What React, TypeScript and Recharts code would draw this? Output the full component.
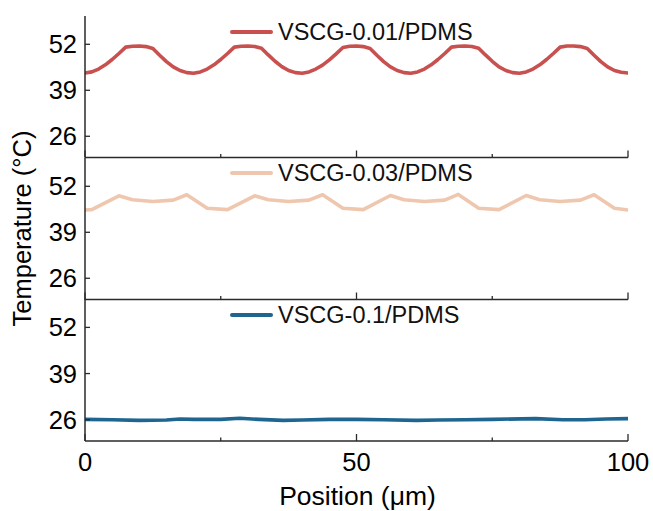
import React from 'react';
import { LineChart, Line, XAxis, YAxis, Legend } from 'recharts';

const FONT = '"Liberation Sans", Arial, Helvetica, sans-serif';
const AXIS = '#2a2a2a';

const xTicks = [0, 25, 50, 75, 100];
const xMajorTicks = [0, 50, 100];
const yTicks = [26, 39, 52];

const names = ['VSCG-0.01/PDMS', 'VSCG-0.03/PDMS', 'VSCG-0.1/PDMS'];
const colors = ['#C85150', '#EFC7AF', '#1E6690'];
const xTitle = 'Position (μm)';
const yTitle = 'Temperature (°C)';

const pos1 = [
  0, 1.25, 2.5, 3.75, 5, 6.25, 7.5, 8.75, 10, 11.25, 12.5, 13.75, 15, 16.25, 17.5, 18.75,
  20, 21.25, 22.5, 23.75, 25, 26.25, 27.5, 28.75, 30, 31.25, 32.5, 33.75, 35, 36.25, 37.5, 38.75,
  40, 41.25, 42.5, 43.75, 45, 46.25, 47.5, 48.75, 50, 51.25, 52.5, 53.75, 55, 56.25, 57.5, 58.75,
  60, 61.25, 62.5, 63.75, 65, 66.25, 67.5, 68.75, 70, 71.25, 72.5, 73.75, 75, 76.25, 77.5, 78.75,
  80, 81.25, 82.5, 83.75, 85, 86.25, 87.5, 88.75, 90, 91.25, 92.5, 93.75, 95, 96.25, 97.5, 98.75, 100,
];
const temp1 = [
  43.9, 44.2, 45.0, 46.2, 47.7, 49.4, 51.2, 51.45, 51.5, 51.35, 50.8, 48.9, 47.1, 45.6, 44.6, 44.0,
  43.8, 44.2, 45.0, 46.2, 47.7, 49.4, 51.2, 51.45, 51.5, 51.4, 50.9, 49.0, 47.2, 45.7, 44.6, 44.0,
  43.8, 44.2, 45.0, 46.1, 47.6, 49.3, 51.1, 51.45, 51.5, 51.35, 50.8, 48.9, 47.1, 45.6, 44.6, 44.0,
  43.8, 44.2, 45.0, 46.2, 47.7, 49.4, 51.2, 51.45, 51.5, 51.4, 50.9, 49.0, 47.2, 45.6, 44.6, 44.0,
  43.8, 44.2, 45.0, 46.2, 47.7, 49.4, 51.2, 51.5, 51.5, 51.35, 50.8, 48.9, 47.1, 45.6, 44.6, 44.1, 43.9,
];

const pos2 = [0, 1.25, 6.25, 8.75, 12.5, 16.25, 18.75, 22.5, 26.25, 31.25, 33.75, 37.5, 41.25, 43.75, 47.5, 51.25, 56.25, 58.75, 62.5, 66.25, 68.75, 72.5, 76.25, 81.25, 83.75, 87.5, 91.25, 93.75, 97.5, 100];
const temp2 = [45.3, 45.4, 49.3, 48.2, 47.7, 48.1, 49.6, 45.8, 45.4, 49.3, 48.2, 47.7, 48.1, 49.6, 45.8, 45.4, 49.4, 48.2, 47.7, 48.1, 49.7, 45.8, 45.4, 49.4, 48.2, 47.7, 48.1, 49.6, 45.8, 45.3];

const pos3 = [0, 5, 10, 15, 17.5, 20, 25, 28.5, 32, 36.5, 40, 45, 50, 55, 61, 65, 70, 75, 83, 88, 92, 96, 100];
const temp3 = [26.1, 26.0, 25.8, 25.9, 26.2, 26.1, 26.1, 26.4, 26.1, 25.8, 25.9, 26.1, 26.1, 26.0, 25.8, 25.9, 26.0, 26.1, 26.3, 26.0, 26.0, 26.2, 26.3];

const toRows = (xs: number[], ys: number[]) => xs.map((x, i) => ({ x, y: ys[i] }));

const renderXTick = (showLabel: boolean) => (props: any) => {
  const { x, y, payload } = props;
  const v = payload.value;
  const major = xMajorTicks.includes(v);
  return (
    <g>
      <line x1={x} x2={x} y1={y} y2={y - (major ? 7 : 3.5)} stroke={AXIS} strokeWidth={1.3} />
      {showLabel && major ? (
        <text x={x} y={y + 29.5} textAnchor="middle" fontSize={25.5} fontFamily={FONT} fill="#000">
          {v}
        </text>
      ) : null}
    </g>
  );
};

const renderYTick = (props: any) => {
  const { x, y, payload } = props;
  return (
    <g>
      <line x1={x} x2={x + 5} y1={y} y2={y} stroke={AXIS} strokeWidth={1.3} />
      <text x={x - 8} y={y} dy="0.355em" textAnchor="end" fontSize={25.5} fontFamily={FONT} fill="#000">
        {payload.value}
      </text>
    </g>
  );
};

type PanelProps = {
  plotTop: number;
  plotHeight: number;
  marginTop: number;
  bottomSpace: number;
  rows: { x: number; y: number }[];
  color: string;
  name: string;
  last: boolean;
};

function Panel({ plotTop, plotHeight, marginTop, bottomSpace, rows, color, name, last }: PanelProps) {
  const height = marginTop + plotHeight + bottomSpace;
  const axisLine = { stroke: AXIS, strokeWidth: 1.5 };
  return (
    <div style={{ position: 'absolute', left: 0, top: plotTop - marginTop }}>
      <LineChart width={653} height={height} data={rows} margin={{ top: marginTop, right: 25, bottom: 0, left: 0 }}>
        <XAxis
          xAxisId="b"
          type="number"
          dataKey="x"
          domain={[0, 100]}
          ticks={xTicks}
          interval={0}
          height={bottomSpace}
          tickSize={0}
          tickMargin={0}
          tickLine={false}
          axisLine={axisLine}
          tick={renderXTick(last)}
          allowDataOverflow
          label={
            last
              ? {
                  content: (p: any) => {
                    const vb = p.viewBox || { x: 85, y: plotHeight + marginTop, width: 543 };
                    return (
                      <text x={vb.x + vb.width / 2 + 1} y={vb.y + 64} textAnchor="middle" fontSize={26.5} fontFamily={FONT} fill="#000">
                        {xTitle}
                      </text>
                    );
                  },
                }
              : undefined
          }
        />
        <XAxis xAxisId="t" orientation="top" type="number" domain={[0, 100]} height={0} tick={false} tickLine={false} axisLine={axisLine} />
        <YAxis
          yAxisId="l"
          type="number"
          domain={[20, 60]}
          ticks={yTicks}
          interval={0}
          width={85}
          tickSize={0}
          tickMargin={0}
          tickLine={false}
          axisLine={axisLine}
          tick={renderYTick}
          allowDataOverflow
        />
        <YAxis yAxisId="r" orientation="right" type="number" domain={[20, 60]} width={0} tick={false} tickLine={false} axisLine={axisLine} />
        <Line
          xAxisId="b"
          yAxisId="l"
          type="linear"
          dataKey="y"
          name={name}
          stroke={color}
          strokeWidth={3.6}
          strokeLinejoin="round"
          strokeLinecap="round"
          dot={false}
          activeDot={false}
          isAnimationActive={false}
        />
        <Legend
          layout="vertical"
          verticalAlign="middle"
          align="center"
          wrapperStyle={{ top: marginTop + 1.6, left: 230, width: 'auto', height: 'auto' }}
          content={(p: any) => {
            const item = p.payload && p.payload[0];
            const c = item?.color || color;
            const label = item?.value || name;
            return (
              <div style={{ display: 'flex', alignItems: 'center', height: 28, lineHeight: '28px', whiteSpace: 'nowrap' }}>
                <span style={{ display: 'inline-block', width: 43, height: 4, background: c, borderRadius: 2, marginRight: 5 }} />
                <span style={{ fontSize: 23.5, fontFamily: FONT, color: '#111' }}>{label}</span>
              </div>
            );
          }}
        />
      </LineChart>
    </div>
  );
}

export default function App() {
  const cy = 228.5;
  return (
    <div style={{ position: 'absolute', left: 0, top: 0, width: 653, height: 511, background: '#fff', overflow: 'hidden' }}>
      <Panel plotTop={16} plotHeight={141.5} marginTop={16} bottomSpace={4} rows={toRows(pos1, temp1)} color={colors[0]} name={names[0]} last={false} />
      <Panel plotTop={157.5} plotHeight={141.5} marginTop={4} bottomSpace={4} rows={toRows(pos2, temp2)} color={colors[1]} name={names[1]} last={false} />
      <Panel plotTop={299} plotHeight={142} marginTop={4} bottomSpace={70} rows={toRows(pos3, temp3)} color={colors[2]} name={names[2]} last={true} />
      <svg width={60} height={511} style={{ position: 'absolute', left: 0, top: 0 }}>
        <text x={31} y={cy} transform={`rotate(-90, 31, ${cy})`} textAnchor="middle" fontSize={25.5} fontFamily={FONT} fill="#000">
          {yTitle}
        </text>
      </svg>
    </div>
  );
}
